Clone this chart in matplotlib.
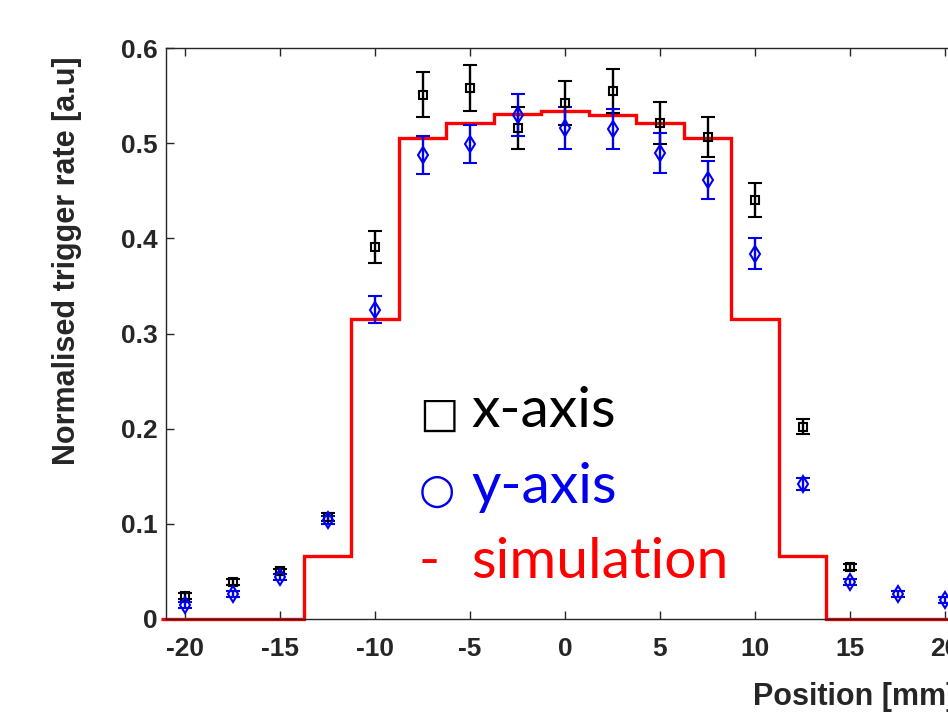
import numpy as np
import matplotlib.pyplot as plt

# measured positions [mm]
pos = [-20, -17.5, -15, -12.5, -10, -7.5, -5, -2.5, 0, 2.5, 5, 7.5, 10, 12.5, 15, 17.5, 20]

# x-axis scan (black squares), no points beyond 15 mm
x_pos = [-20, -17.5, -15, -12.5, -10, -7.5, -5, -2.5, 0, 2.5, 5, 7.5, 10, 12.5, 15]
x_rate = [0.024, 0.039, 0.050, 0.107, 0.391, 0.551, 0.558, 0.516, 0.542, 0.555, 0.521, 0.506, 0.440, 0.202, 0.055]
x_err = [0.003, 0.003, 0.003, 0.004, 0.017, 0.024, 0.024, 0.022, 0.023, 0.023, 0.022, 0.021, 0.018, 0.008, 0.003]

# y-axis scan (blue diamonds)
y_rate = [0.015, 0.026, 0.044, 0.104, 0.325, 0.488, 0.499, 0.530, 0.516, 0.515, 0.490, 0.461, 0.384, 0.142, 0.039, 0.026, 0.020]
y_err = [0.003, 0.003, 0.003, 0.004, 0.014, 0.020, 0.020, 0.022, 0.022, 0.021, 0.021, 0.020, 0.016, 0.006, 0.003, 0.003, 0.003]

# simulation, bins of 2.5 mm centred on the measured positions
sim_rate = [0, 0, 0, 0.066, 0.315, 0.505, 0.521, 0.531, 0.534, 0.530, 0.521, 0.505, 0.315, 0.066, 0, 0, 0]

W, H = 948, 713
fig = plt.figure(figsize=(W / 100, H / 100), dpi=100)
# axes runs past the right border, like the cropped original
ax = fig.add_axes([166 / W, 1 - 619 / H, 798 / W, 571 / H])

edges = np.concatenate([np.array(pos) - 1.25, [pos[-1] + 1.25]])
ax.stairs(sim_rate, edges, color='red', linewidth=2.4, baseline=None, zorder=2, clip_on=False)

ax.errorbar(x_pos, x_rate, yerr=x_err, fmt='s', color='black', mfc='none', mec='black',
            markersize=6, mew=1.5, elinewidth=1.7, capsize=4.8, capthick=1.7, zorder=3)
ax.errorbar(pos, y_rate, yerr=y_err, fmt='d', color='#0000ee', mfc='none', mec='#0000ee',
            markersize=8, mew=1.5, elinewidth=1.7, capsize=4.8, capthick=1.7, zorder=3)

ax.set_xlim(-21, 21)
ax.set_ylim(0, 0.6)
ax.set_xticks([-20, -15, -10, -5, 0, 5, 10, 15, 20])
ax.set_xticklabels(['-20', '-15', '-10', '-5', '0', '5', '10', '15', '20'])
ax.set_yticks([0, 0.1, 0.2, 0.3, 0.4, 0.5, 0.6])
ax.set_yticklabels(['0', '0.1', '0.2', '0.3', '0.4', '0.5', '0.6'])

ax.tick_params(direction='in', length=6, width=1, top=True, right=True,
               labelsize=19, colors='#262626')
ax.tick_params(axis='x', pad=13)
ax.tick_params(axis='y', pad=6)
for lab in ax.get_xticklabels() + ax.get_yticklabels():
    lab.set_fontweight('bold')
    lab.set_family('Liberation Sans')
for sp in ax.spines.values():
    sp.set_color('#262626')
    sp.set_linewidth(1)

ax.set_ylabel('Normalised trigger rate [a.u]', fontsize=22, fontweight='bold',
              family='Liberation Sans', color='#262626')
ax.yaxis.set_label_coords(-0.105, 0.627)
fig.text(753 / W, 1 - 705 / H, 'Position [mm]', fontsize=22, fontweight='bold',
         family='Liberation Sans', color='#262626', ha='left', va='baseline')

# hand-made legend
leg = [('\u25a1', 'x-axis', 'black', 427), ('\u25cb', 'y-axis', '#0000ee', 503)]
for sym, word, col, base in leg:
    fig.text(419 / W, 1 - base / H, sym, fontsize=30, color=col, family='DejaVu Sans',
             ha='left', va='baseline')
    fig.text(471 / W, 1 - base / H, word, fontsize=41, color=col, family=['Lato', 'DejaVu Sans'],
             ha='left', va='baseline')
fig.text(419 / W, 1 - 578 / H, '-', fontsize=41, color='red', family='Lato',
         ha='left', va='baseline')
fig.text(471 / W, 1 - 578 / H, 'simulation', fontsize=41, color='red', family='Lato',
         ha='left', va='baseline')

fig.savefig('out.png', dpi=100)
